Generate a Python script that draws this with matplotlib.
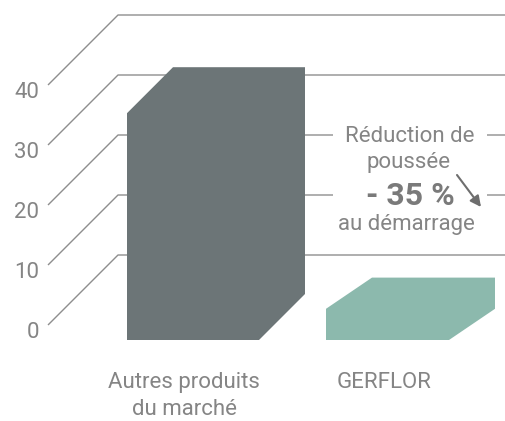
import matplotlib.pyplot as plt
from matplotlib.patches import Polygon, Rectangle

# data
categories = ["Autres produits\ndu marché", "GERFLOR"]
values = [35.3, 2.7]
ticks = [0, 10, 20, 30, 40]
tick_labels = ["0", "10", "20", "30", "40"]

# layout (x in pixels, y in value units: 10 units = 60 px)
W, H = 505, 421
y0_px, px_per_unit = 325, 6.0
baseline = -2.5
bar_left = [127, 326]
bar_width = [132, 123]
depth_x = 46
depth_y_max = 46 / px_per_unit
grid_front_x, grid_back_x = 48, 118
grid_dy = 70 / px_per_unit

bar_colors = ["#6c7577", "#8cb9ad"]
grid_col = "#8e8e8e"
text_col = "#858585"

plt.rcParams["font.family"] = ["Roboto", "DejaVu Sans"]

fig = plt.figure(figsize=(W / 100, H / 100), dpi=100)
ax = fig.add_axes([0, 0, 1, 1])
ax.set_xlim(0, W)
ax.set_ylim((y0_px - H) / px_per_unit, y0_px / px_per_unit)
ax.axis("off")

txt = dict(va="baseline", size=16, color=text_col)

# pseudo 3D grid
for t, lab in zip(ticks, tick_labels):
    ax.plot([grid_front_x, grid_back_x, W], [t, t + grid_dy, t + grid_dy],
            color=grid_col, lw=1, zorder=1, solid_capstyle="butt")
    ax.text(39, t - 2.17, lab, ha="right", **txt)

# bars drawn as box silhouettes
for x, w, v, c in zip(bar_left, bar_width, values, bar_colors):
    dy = min(depth_y_max, v - baseline)
    pts = [
        (x, baseline),
        (x, v),
        (x + depth_x, v + dy),
        (x + w + depth_x, v + dy),
        (x + w + depth_x, baseline + dy),
        (x + w, baseline),
    ]
    ax.add_patch(Polygon(pts, closed=True, facecolor=c, edgecolor="none", zorder=3))

# labels under bars, one line at a time
label_x = [184, 384]
for cx, cat in zip(label_x, categories):
    for i, line in enumerate(cat.split("\n")):
        ax.text(cx, -10.5 - i * 4.5, line, ha="center", **txt)

# annotation
ax.add_patch(Rectangle((333, 13.3), 154, 21.2, facecolor="white",
                       edgecolor="none", zorder=2))
ax.text(410, 30.5, "Réduction de", ha="center", zorder=4, **txt)
ax.text(409, 26.17, "poussée", ha="center", zorder=4, **txt)
ax.text(410, 20, "- 35 %", ha="center", va="baseline", size=23,
        color="#7a7a7a", weight="bold", zorder=4)
ax.text(406, 15.83, "au démarrage", ha="center", zorder=4, **txt)
ax.annotate("", xy=(481, 19.67), xytext=(457, 25),
            arrowprops=dict(arrowstyle="-|>", color="#6e6e6e", lw=1.5,
                            mutation_scale=16, shrinkA=0, shrinkB=0),
            zorder=4)

fig.savefig("out.png", dpi=100)
